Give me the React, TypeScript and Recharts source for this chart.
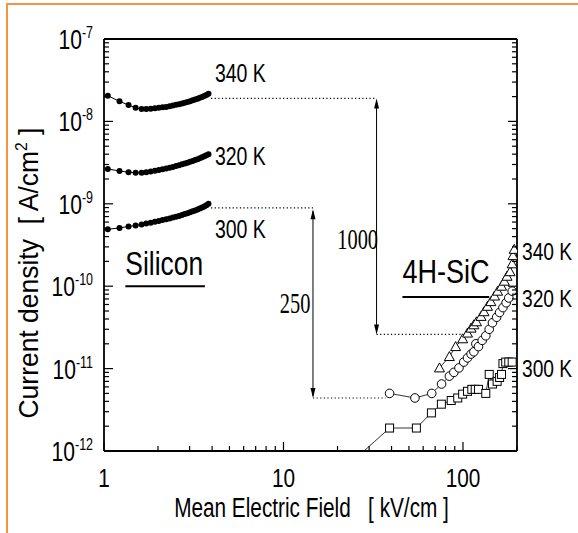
import React from 'react';
import {
  LineChart,
  Line,
  XAxis,
  YAxis,
  ReferenceLine,
  ReferenceDot,
  Label,
} from 'recharts';

const FONT = '"Liberation Sans", Arial, sans-serif';
const SERIF = '"Liberation Serif", "Times New Roman", serif';

// Silicon: mean field (kV/cm) for each dot
const siField = [1.05, 1.22, 1.37, 1.5, 1.62, 1.72, 1.82, 1.92, 2.02, 2.12, 2.22, 2.32, 2.42, 2.52,
  2.62, 2.72, 2.82, 2.92, 3.02, 3.12, 3.22, 3.32, 3.42, 3.52, 3.62, 3.72, 3.82];
const si340 = [2.05e-8, 1.75e-8, 1.58e-8, 1.46e-8, 1.41e-8, 1.41e-8, 1.42e-8, 1.44e-8, 1.46e-8, 1.48e-8,
  1.5e-8, 1.53e-8, 1.56e-8, 1.59e-8, 1.62e-8, 1.65e-8, 1.68e-8, 1.72e-8, 1.76e-8, 1.8e-8, 1.84e-8,
  1.88e-8, 1.93e-8, 1.98e-8, 2.03e-8, 2.09e-8, 2.16e-8];
const si320 = [2.65e-9, 2.5e-9, 2.42e-9, 2.38e-9, 2.38e-9, 2.42e-9, 2.47e-9, 2.52e-9, 2.57e-9, 2.62e-9,
  2.68e-9, 2.74e-9, 2.8e-9, 2.87e-9, 2.94e-9, 3.01e-9, 3.08e-9, 3.15e-9, 3.23e-9, 3.31e-9, 3.39e-9,
  3.48e-9, 3.57e-9, 3.67e-9, 3.77e-9, 3.88e-9, 4.0e-9];
const si300 = [4.9e-10, 5.1e-10, 5.3e-10, 5.45e-10, 5.6e-10, 5.75e-10, 5.9e-10, 6.05e-10, 6.2e-10, 6.35e-10,
  6.5e-10, 6.65e-10, 6.8e-10, 6.95e-10, 7.1e-10, 7.3e-10, 7.5e-10, 7.7e-10, 7.9e-10, 8.1e-10, 8.3e-10,
  8.5e-10, 8.75e-10, 9.0e-10, 9.3e-10, 9.6e-10, 1.0e-9];

// 4H-SiC
const sic340Field = [74, 84, 91, 99.6, 106, 111, 115, 119, 126, 131, 137, 143, 150, 156, 164, 170, 176, 183, 188, 190, 193];
const sic340 = [1.02e-11, 1.4e-11, 1.85e-11, 2.3e-11, 2.7e-11, 3.1e-11, 3.4e-11, 3.7e-11, 4.3e-11, 4.9e-11,
  5.7e-11, 6.5e-11, 7.6e-11, 8.7e-11, 1.0e-10, 1.15e-10, 1.32e-10, 1.5e-10, 1.87e-10, 2.35e-10, 2.8e-10];

const sic320Field = [39, 54, 67, 76, 84, 89, 95, 101, 106, 111, 115, 118, 122, 128, 134, 140, 146, 154, 160, 167, 174, 180, 188];
const sic320 = [5.0e-12, 4.4e-12, 5.0e-12, 6.5e-12, 8.1e-12, 9.0e-12, 1.02e-11, 1.2e-11, 1.35e-11, 1.5e-11,
  1.6e-11, 2.0e-11, 1.85e-11, 2.2e-11, 2.5e-11, 3.0e-11, 3.6e-11, 4.2e-11, 4.8e-11, 5.5e-11, 6.3e-11,
  7.2e-11, 8.7e-11];

const sic300Field = [20.5, 39, 55, 66.7, 75.8, 86, 93.5, 99.6, 106, 112, 117, 122, 134, 140, 146, 155, 160, 164, 167, 173, 180, 188];
const sic300 = [5.4e-13, 1.9e-12, 1.9e-12, 2.9e-12, 3.7e-12, 4.1e-12, 4.4e-12, 4.9e-12, 5.3e-12, 5.6e-12,
  5.6e-12, 5.6e-12, 5.0e-12, 8.5e-12, 6.5e-12, 7.0e-12, 7.8e-12, 8.5e-12, 1.15e-11, 1.2e-11, 1.2e-11, 1.2e-11];

const xMajor = [1, 10, 100];
const xTicks = [1, 2, 3, 4, 5, 6, 7, 8, 9, 10, 20, 30, 40, 50, 60, 70, 80, 90, 100, 200];
const yDecades = [1e-12, 1e-11, 1e-10, 1e-9, 1e-8, 1e-7];
const yTicks = yDecades.flatMap(d => (d === 1e-7 ? [d] : [1, 2, 3, 4, 5, 6, 7, 8, 9].map(m => m * d)));

const toPoints = (xs: number[], ys: number[]) => xs.map((x, i) => ({ x, y: ys[i] }));

const isMajor = (v: number) => Math.abs(Math.log10(v) - Math.round(Math.log10(v))) < 1e-6;

// the scanned figure uses a tall, condensed type; squeeze it horizontally
const TickBottom = ({ x, y, payload }: any) => {
  const major = xMajor.includes(payload.value);
  return (
    <g>
      <line x1={x} y1={y} x2={x} y2={y - (major ? 9 : 5)} stroke="#000" strokeWidth={1.2} />
      {major && (
        <text transform={`translate(${x} ${y + 36}) scale(0.8 1)`} textAnchor="middle"
          fontFamily={FONT} fontSize={26} fill="#000">
          {payload.value}
        </text>
      )}
    </g>
  );
};

const TickTop = ({ x, y, payload }: any) => {
  const major = xMajor.includes(payload.value);
  return <line x1={x} y1={y} x2={x} y2={y + (major ? 9 : 5)} stroke="#000" strokeWidth={1.2} />;
};

const TickLeft = ({ x, y, payload }: any) => {
  const major = isMajor(payload.value);
  const e = Math.round(Math.log10(payload.value));
  return (
    <g>
      <line x1={x} y1={y} x2={x + (major ? 9 : 5)} y2={y} stroke="#000" strokeWidth={1.2} />
      {major && (
        <text transform={`translate(${x - 11} ${y + 10}) scale(0.78 1)`} textAnchor="end"
          fontFamily={FONT} fontSize={27} fill="#000">
          <tspan>10</tspan>
          <tspan dy={-11} fontSize={16}>{e}</tspan>
        </text>
      )}
    </g>
  );
};

const TickRight = ({ x, y, payload }: any) => {
  const major = isMajor(payload.value);
  return <line x1={x} y1={y} x2={x - (major ? 9 : 5)} y2={y} stroke="#000" strokeWidth={1.2} />;
};

const siDot = (p: any) => <circle key={p.index} cx={p.cx} cy={p.cy} r={3} fill="#000" />;
const circleDot = (p: any) => (
  <circle key={p.index} cx={p.cx} cy={p.cy} r={4.3} fill="#fff" stroke="#000" strokeWidth={1} />
);
const squareDot = (p: any) => (
  <rect key={p.index} x={p.cx - 4} y={p.cy - 4} width={8} height={8} fill="#fff" stroke="#000" strokeWidth={1} />
);
const triangleDot = (p: any) => (
  <path key={p.index} d={`M${p.cx},${p.cy - 5}L${p.cx + 5},${p.cy + 4}L${p.cx - 5},${p.cy + 4}Z`}
    fill="#fff" stroke="#000" strokeWidth={1} />
);

const Arrow = (p: any) => {
  const { x1, y1, x2, y2 } = p;
  const top = Math.min(y1, y2);
  const bot = Math.max(y1, y2);
  return (
    <g>
      <line x1={x1} y1={top + 2} x2={x2} y2={bot - 2} stroke="#000" strokeWidth={1} />
      <path d={`M${x1},${top}L${x1 + 2.5},${top + 10}L${x1 - 2.5},${top + 10}Z`} fill="#000" />
      <path d={`M${x1},${bot}L${x1 + 2.5},${bot - 10}L${x1 - 2.5},${bot - 10}Z`} fill="#000" />
    </g>
  );
};

type Note = { x: number; y: number; text: string; size: number; sx: number; dx?: number; anchor?: string; serif?: boolean };
const notes: Note[] = [
  { x: 4.15, y: 3.9e-8, text: '340 K', size: 25, sx: 0.78 },
  { x: 4.15, y: 3.8e-9, text: '320 K', size: 25, sx: 0.78 },
  { x: 4.15, y: 4.9e-10, text: '300 K', size: 25, sx: 0.78 },
  { x: 1.315, y: 1.9e-10, text: 'Silicon', size: 33, sx: 0.8 },
  { x: 46, y: 1.53e-10, text: '4H-SiC', size: 33, sx: 0.82 },
  { x: 200, y: 2.67e-10, text: '340 K', size: 24, sx: 0.8, dx: 5 },
  { x: 200, y: 7.2e-11, text: '320 K', size: 24, sx: 0.8, dx: 5 },
  { x: 200, y: 1.0e-11, text: '300 K', size: 24, sx: 0.8, dx: 5 },
  { x: 25.9, y: 3.85e-10, text: '1000', size: 30, sx: 0.68, anchor: 'middle', serif: true },
  { x: 11.6, y: 6.4e-11, text: '250', size: 30, sx: 0.68, anchor: 'middle', serif: true },
];

const dotted = { stroke: '#000', strokeWidth: 1.2, strokeDasharray: '1.2 2.4' };

export default function App() {
  return (
    <div style={{ position: 'absolute', left: 0, top: 0, width: 578, height: 533, background: '#fff' }}>
      <div
        style={{
          position: 'absolute', left: 6, top: 3, width: 572, height: 530,
          borderTop: '2px solid #f7953d', borderLeft: '2px solid #f7953d',
        }}
      />
      <LineChart
        width={578}
        height={533}
        margin={{ top: 0, right: 0, bottom: 0, left: 0 }}
        style={{ position: 'absolute', left: 0, top: 0 }}
      >
        <XAxis
          dataKey="x" type="number" scale="log" domain={[1, 200]} allowDataOverflow
          ticks={xTicks} interval={0} tick={TickBottom} tickLine={false} tickSize={0} tickMargin={0}
          axisLine={{ stroke: '#000', strokeWidth: 1.8 }} height={82}
        >
          <Label
            content={({ viewBox }: any) => (
              <text transform={`translate(${viewBox.x + viewBox.width / 2 + 1} ${viewBox.y + 66}) scale(0.77 1)`}
                textAnchor="middle" fontFamily={FONT} fontSize={27} fill="#000" style={{ whiteSpace: 'pre' }}>
                {'Mean Electric Field   [ kV/cm ]'}
              </text>
            )}
          />
        </XAxis>
        <XAxis
          xAxisId="top" orientation="top" type="number" scale="log" domain={[1, 200]} allowDataOverflow
          ticks={xTicks} interval={0} tick={TickTop} tickLine={false} tickSize={0} tickMargin={0}
          axisLine={{ stroke: '#000', strokeWidth: 1.8 }} height={39}
        />
        <YAxis
          type="number" scale="log" domain={[1e-12, 1e-7]} allowDataOverflow
          ticks={yTicks} interval={0} tick={TickLeft} tickLine={false} tickSize={0} tickMargin={0}
          axisLine={{ stroke: '#000', strokeWidth: 1.8 }} width={104}
        >
          <Label
            content={({ viewBox }: any) => {
              const cx = 38;
              const cy = viewBox.y + viewBox.height / 2 + 28;
              return (
                <text transform={`translate(${cx} ${cy}) rotate(-90) scale(0.98 1)`} textAnchor="middle"
                  fontFamily={FONT} fontSize={27} fill="#000" style={{ whiteSpace: 'pre' }}>
                  <tspan>{'Current density  [ A/cm'}</tspan>
                  <tspan dy={-11} fontSize={16}>2</tspan>
                  <tspan dy={11}>{' ]'}</tspan>
                </text>
              );
            }}
          />
        </YAxis>
        <YAxis
          yAxisId="right" orientation="right" type="number" scale="log" domain={[1e-12, 1e-7]} allowDataOverflow
          ticks={yTicks} interval={0} tick={TickRight} tickLine={false} tickSize={0} tickMargin={0}
          axisLine={{ stroke: '#000', strokeWidth: 1.8 }} width={61}
        />

        <ReferenceLine segment={[{ x: 3.95, y: 1.9e-8 }, { x: 33, y: 1.9e-8 }]} {...dotted} />
        <ReferenceLine segment={[{ x: 33, y: 2.6e-11 }, { x: 100, y: 2.6e-11 }]} {...dotted} />
        <ReferenceLine segment={[{ x: 3.95, y: 8.9e-10 }, { x: 14.6, y: 8.9e-10 }]} {...dotted} />
        <ReferenceLine segment={[{ x: 14.6, y: 4.4e-12 }, { x: 37, y: 4.4e-12 }]} {...dotted} />
        <ReferenceLine segment={[{ x: 33, y: 1.9e-8 }, { x: 33, y: 2.6e-11 }]} shape={Arrow} />
        <ReferenceLine segment={[{ x: 14.6, y: 8.6e-10 }, { x: 14.6, y: 4.4e-12 }]} shape={Arrow} />
        <ReferenceLine segment={[{ x: 1.315, y: 1.0e-10 }, { x: 3.65, y: 1.0e-10 }]} stroke="#000" strokeWidth={2} />
        <ReferenceLine segment={[{ x: 46, y: 7.4e-11 }, { x: 140, y: 7.4e-11 }]} stroke="#000" strokeWidth={2} />

        <Line data={toPoints(siField, si340)} dataKey="y" stroke="#000" strokeWidth={1} dot={siDot} isAnimationActive={false} />
        <Line data={toPoints(siField, si320)} dataKey="y" stroke="#000" strokeWidth={1} dot={siDot} isAnimationActive={false} />
        <Line data={toPoints(siField, si300)} dataKey="y" stroke="#000" strokeWidth={1} dot={siDot} isAnimationActive={false} />
        <Line data={toPoints(sic340Field, sic340)} dataKey="y" stroke="#000" strokeWidth={0.8} dot={triangleDot} isAnimationActive={false} />
        <Line data={toPoints(sic320Field, sic320)} dataKey="y" stroke="#000" strokeWidth={0.8} dot={circleDot} isAnimationActive={false} />
        <Line data={toPoints(sic300Field, sic300)} dataKey="y" stroke="#000" strokeWidth={0.8} dot={squareDot} isAnimationActive={false} />

        {notes.map((n, i) => (
          <ReferenceDot
            key={`note-${i}`}
            x={n.x}
            y={n.y}
            ifOverflow="visible"
            shape={(p: any) => (
              <text transform={`translate(${p.cx + (n.dx || 0)} ${p.cy}) scale(${n.sx} 1)`}
                dy="0.36em" textAnchor={n.anchor || 'start'}
                fontFamily={n.serif ? SERIF : FONT} fontSize={n.size} fill="#000">
                {n.text}
              </text>
            )}
          />
        ))}
      </LineChart>
    </div>
  );
}
